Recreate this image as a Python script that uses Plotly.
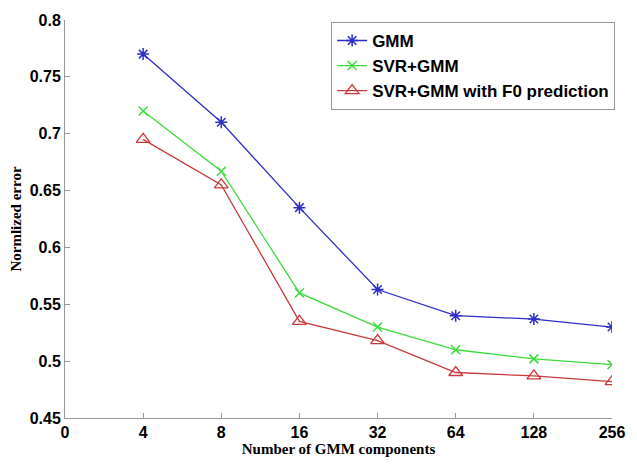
import plotly.graph_objects as go

tick_labels = ["0", "4", "8", "16", "32", "64", "128", "256"]
components = ["4", "8", "16", "32", "64", "128", "256"]
gmm = [0.770, 0.710, 0.635, 0.563, 0.540, 0.537, 0.530]
svr_gmm = [0.720, 0.667, 0.560, 0.530, 0.510, 0.502, 0.497]
svr_gmm_f0 = [0.695, 0.655, 0.535, 0.518, 0.490, 0.487, 0.482]

xpos = [tick_labels.index(c) for c in components]

fig = go.Figure()
fig.add_trace(go.Scatter(x=xpos, y=gmm, name="GMM", mode="lines+markers",
                         line=dict(color="#2e2ec8", width=1.3),
                         marker=dict(symbol="asterisk-open", size=10, color="#2e2ec8",
                                     line=dict(width=1.5, color="#2e2ec8"))))
fig.add_trace(go.Scatter(x=xpos, y=svr_gmm, name="SVR+GMM", mode="lines+markers",
                         line=dict(color="#3cdc3c", width=1.3),
                         marker=dict(symbol="x-thin-open", size=9, color="#3cdc3c",
                                     line=dict(width=1.5, color="#3cdc3c"))))
fig.add_trace(go.Scatter(x=xpos, y=svr_gmm_f0, name="SVR+GMM with F0 prediction", mode="lines+markers",
                         line=dict(color="#c83a3a", width=1.3),
                         marker=dict(symbol="triangle-up-open", size=12, color="#c83a3a",
                                     line=dict(width=1.3, color="#c83a3a"))))

fig.update_layout(
    width=637, height=465,
    margin=dict(l=65, r=15, t=17, b=36),
    paper_bgcolor="white", plot_bgcolor="white",
    font=dict(family="Liberation Sans, Arial, sans-serif", color="black"),
    showlegend=True,
    legend=dict(x=(336 - 65) / 557, y=1 - (19 - 17) / 412, xanchor="left", yanchor="top",
                bgcolor="white", bordercolor="#999999", borderwidth=1,
                font=dict(family="Liberation Sans, Arial, sans-serif", size=17, color="black",
                          weight="bold"),
                tracegroupgap=0),
)
fig.update_xaxes(
    range=[0, 7], tickmode="array", tickvals=list(range(len(tick_labels))), ticktext=tick_labels,
    showgrid=False, zeroline=False, showline=True, linecolor="#999999", linewidth=1,
    ticks="inside", ticklen=5, tickcolor="#999999",
    tickfont=dict(family="Liberation Sans, Arial, sans-serif", size=16, color="black", weight="bold"),
    title=dict(text="<b>Number of GMM components</b>", standoff=1,
               font=dict(family="Liberation Serif, Times New Roman, serif", size=15, color="black")),
)
fig.update_yaxes(
    range=[0.45, 0.8], tickmode="array", tickvals=[0.45, 0.5, 0.55, 0.6, 0.65, 0.7, 0.75, 0.8],
    ticktext=["0.45", "0.5", "0.55", "0.6", "0.65", "0.7", "0.75", "0.8"],
    showgrid=False, zeroline=False, showline=True, linecolor="#999999", linewidth=1,
    ticks="inside", ticklen=5, tickcolor="#999999",
    tickfont=dict(family="Liberation Sans, Arial, sans-serif", size=16, color="black", weight="bold"),
    title=dict(text="<b>Normlized error</b>", standoff=4,
               font=dict(family="Liberation Serif, Times New Roman, serif", size=15, color="black")),
)

fig.write_html("out.html")
